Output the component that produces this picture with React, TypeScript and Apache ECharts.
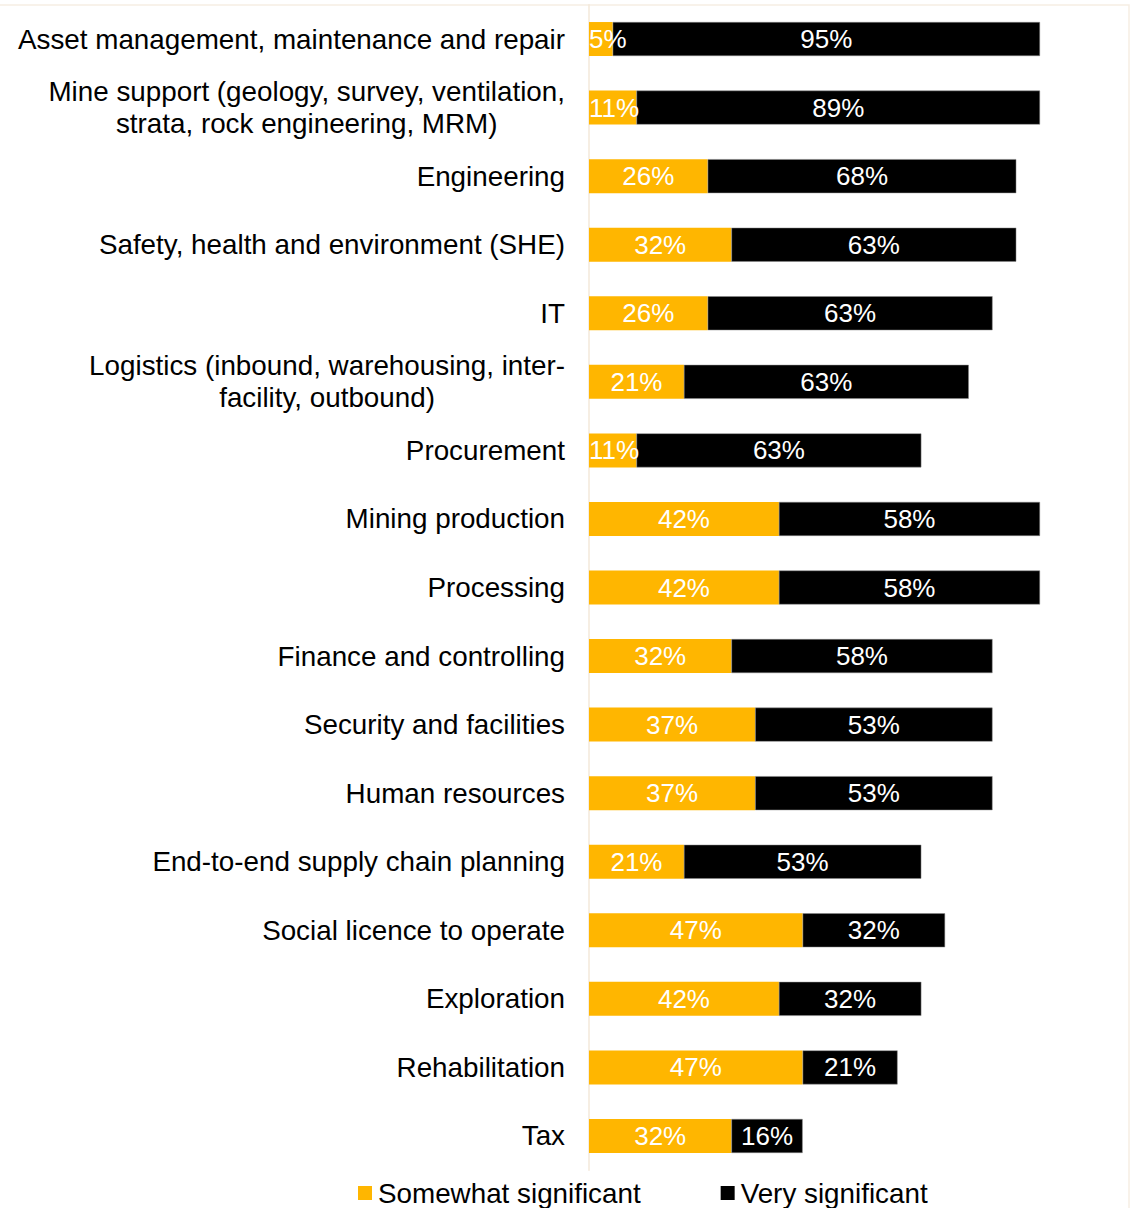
import React, { useEffect, useRef } from "react";
import * as echarts from "echarts";

const categories = [
  "Asset management, maintenance and repair",
  "Mine support (geology, survey, ventilation,\nstrata, rock engineering, MRM)",
  "Engineering",
  "Safety, health and environment (SHE)",
  "IT",
  "Logistics (inbound, warehousing, inter-\nfacility, outbound)",
  "Procurement",
  "Mining production",
  "Processing",
  "Finance and controlling",
  "Security and facilities",
  "Human resources",
  "End-to-end supply chain planning",
  "Social licence to operate",
  "Exploration",
  "Rehabilitation",
  "Tax",
];

const somewhatSignificant = [5.26, 10.53, 26.32, 31.58, 26.32, 21.05, 10.53, 42.11, 42.11, 31.58, 36.84, 36.84, 21.05, 47.37, 42.11, 47.37, 31.58];
const verySignificant = [94.74, 89.47, 68.42, 63.16, 63.16, 63.16, 63.16, 57.89, 57.89, 57.89, 52.63, 52.63, 52.63, 31.58, 31.58, 21.05, 15.79];

const seriesNames = ["Somewhat significant", "Very significant"];
const FONT = "'Liberation Sans', Arial, sans-serif";

export default function App() {
  const ref = useRef<HTMLDivElement>(null);
  useEffect(() => {
    if (!ref.current) return;
    const chart = echarts.init(ref.current, undefined, { renderer: "svg" });
    const labelStyle = {
      show: true,
      position: "inside",
      color: "#ffffff",
      fontSize: 26,
      fontFamily: FONT,
      formatter: (p: any) => `${Math.round(p.value)}%`,
    };
    const toItems = (arr: number[]) =>
      arr.map((v) =>
        v < 15
          ? { value: v, label: { position: "insideLeft", distance: 0 } }
          : { value: v }
      );
    chart.setOption({
      animation: false,
      backgroundColor: "#ffffff",
      textStyle: { fontFamily: FONT },
      graphic: [
        {
          type: "rect",
          shape: { x: -2, y: 5, width: 1131, height: 1220 },
          style: { fill: "none", stroke: "#f6eee4", lineWidth: 1.5 },
          silent: true,
          z: -10,
        },
      ],
      grid: { left: 589, right: 95, top: 4.75, bottom: 37.75, containLabel: false },
      xAxis: {
        type: "value",
        min: 0,
        max: 100,
        show: false,
      },
      yAxis: {
        type: "category",
        data: categories,
        inverse: true,
        axisLine: { show: true, lineStyle: { color: "#f3e8da", width: 1.5 } },
        axisTick: { show: false },
        splitLine: { show: false },
        axisLabel: {
          color: "#000000",
          fontSize: 27.8,
          fontFamily: FONT,
          margin: 24,
          lineHeight: 32,
          formatter: (v: string) =>
            v.includes("\n")
              ? v
                  .split("\n")
                  .map((l) => `{c|${l}}`)
                  .join("\n")
              : v,
          rich: {
            c: { align: "center", fontSize: 27.8, color: "#000000", fontFamily: FONT, lineHeight: 32 },
          },
        },
      },
      legend: {
        left: 353,
        top: 1174,
        icon: "rect",
        itemWidth: 14,
        itemHeight: 14,
        itemGap: 80,
        itemStyle: { borderWidth: 0 },
        textStyle: { fontSize: 27.8, color: "#000000", fontFamily: FONT, padding: [0, 0, 0, 1] },
        data: seriesNames,
      },
      series: [
        {
          name: seriesNames[0],
          type: "bar",
          stack: "total",
          barWidth: 34,
          data: toItems(somewhatSignificant),
          itemStyle: { color: "#ffb600" },
          label: labelStyle,
          z: 2,
        },
        {
          name: seriesNames[1],
          type: "bar",
          stack: "total",
          barWidth: 34,
          data: toItems(verySignificant),
          itemStyle: { color: "#000000", borderColor: "#8a8a8a", borderWidth: 0.5 },
          label: labelStyle,
          z: 2,
        },
      ],
    });
    return () => chart.dispose();
  }, []);
  return (
    <div
      ref={ref}
      style={{ position: "absolute", left: 0, top: 0, width: 1135, height: 1208 }}
    />
  );
}
